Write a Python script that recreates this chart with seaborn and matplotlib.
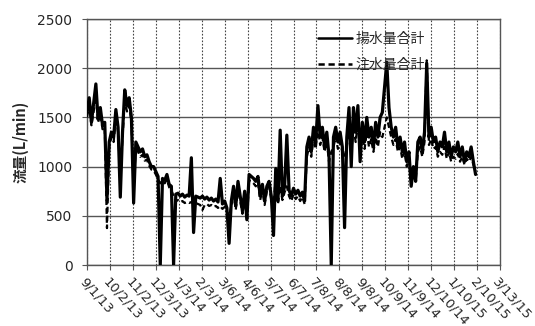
import matplotlib
matplotlib.use("Agg")
import matplotlib.pyplot as plt
import numpy as np
import pandas as pd
import seaborn as sns

# Flow readings, sampled every 3 days from 2013-09-01
start_date = "2013-09-01"
sample_step = "3D"

pumping = [
    1550, 1700, 1450, 1650, 1840, 1480, 1600, 1420, 1450, 660,
    1250, 1350, 1300, 1580, 1400, 690, 1350, 1780, 1620, 1700,
    1500, 630, 1250, 1200, 1150, 1180, 1100, 1120, 1050, 1000,
    1000, 950, 900, 0, 880, 860, 920, 820, 800, 0,
    720, 730, 700, 720, 690, 710, 700, 1090, 330, 700,
    690, 680, 700, 670, 690, 660, 680, 650, 670, 640,
    880, 620, 650, 580, 220, 650, 800, 600, 850, 700,
    550, 750, 460, 920, 900, 880, 850, 900, 700, 820,
    650, 800, 850, 700, 300, 980, 650, 1370, 700, 800,
    1320, 760, 700, 780, 720, 760, 700, 740, 650, 1200,
    1300, 1150, 1400, 1250, 1620, 1300, 1400, 1200, 1350, 1100,
    0, 1300, 1400, 1250, 1350, 1200, 380, 1300, 1600, 1000,
    1600, 1350, 1620, 1050, 1450, 1250, 1500, 1300, 1400, 1200,
    1450, 1300, 1500, 1550, 1800, 2060, 1600, 1400, 1300, 1400,
    1200, 1300, 1150, 1250, 1050, 1150, 800, 1000, 850, 1250,
    1300, 1150, 1350, 2050, 1300, 1400, 1250, 1300, 1150, 1250,
    1200, 1350, 1150, 1250, 1100, 1200, 1150, 1250, 1100, 1200,
    1050, 1150, 1100, 1200, 1050, 920,
]

injection = [
    1500, 1620, 1420, 1560, 1720, 1450, 1530, 1380, 1400, 375,
    1200, 1300, 1250, 1500, 1350, 900, 1300, 1680, 1560, 1620,
    1450, 800, 1200, 1150, 1100, 1120, 1060, 1070, 1010, 970,
    960, 920, 870, 830, 850, 830, 870, 790, 760, 700,
    650, 660, 640, 650, 630, 640, 630, 640, 620, 630,
    620, 610, 560, 610, 620, 600, 610, 590, 600, 580,
    600, 570, 590, 540, 500, 600, 720, 560, 780, 650,
    520, 690, 450, 860, 850, 830, 800, 840, 660, 770,
    610, 750, 800, 660, 600, 900, 620, 800, 660, 740,
    800, 700, 650, 720, 670, 700, 650, 690, 620, 1100,
    1200, 1100, 1300, 1180, 1400, 1220, 1300, 1150, 1250, 1050,
    1150, 1200, 1300, 1180, 1250, 1150, 1100, 1200, 1400, 1150,
    1400, 1250, 1450, 1200, 1300, 1180, 1350, 1200, 1280, 1150,
    1300, 1200, 1350, 1300, 1400, 1500, 1400, 1300, 1220, 1280,
    1150, 1200, 1080, 1150, 1000, 1080, 820, 950, 850, 1150,
    1200, 1100, 1250, 2080, 1220, 1280, 1180, 1200, 1100, 1150,
    1120, 1200, 1080, 1150, 1050, 1100, 1080, 1130, 1050, 1100,
    1020, 1080, 1050, 1100, 1020, 950,
]

tick_labels = [
    "9/1/13", "10/2/13", "11/2/13", "12/3/13", "1/3/14", "2/3/14",
    "3/6/14", "4/6/14", "5/7/14", "6/7/14", "7/8/14", "8/8/14",
    "9/8/14", "10/9/14", "11/9/14", "12/10/14", "1/10/15", "2/10/15",
    "3/13/15",
]
y_ticks = [0, 500, 1000, 1500, 2000, 2500]

label_pump = "揚水量合計"
label_inject = "注水量合計"
y_label = "流量(L/min)"

dates = pd.date_range(start_date, periods=len(pumping), freq=sample_step)
df = pd.DataFrame({"date": dates, "pump": pumping, "inject": injection})
tick_dates = pd.to_datetime(tick_labels, format="%m/%d/%y")

sns.set_style("white")
plt.rcParams["font.family"] = ["DejaVu Sans", "Noto Sans CJK JP"]

fig = plt.figure(figsize=(5.35, 3.26), dpi=100)
ax = fig.add_axes([0.1626, 0.1871, 0.772, 0.7546])

sns.lineplot(data=df, x="date", y="inject", ax=ax, color="black",
             lw=1.6, label=label_inject, zorder=3)
sns.lineplot(data=df, x="date", y="pump", ax=ax, color="black",
             lw=2.3, label=label_pump, zorder=4)
ax.lines[0].set_dashes([2.5, 1.5])

ax.set_xlim(tick_dates[0], tick_dates[-1])
ax.set_ylim(0, 2500)
ax.set_yticks(y_ticks)
ax.set_xticks(tick_dates)
ax.set_xticklabels(tick_labels, rotation=-48, ha="left", va="top",
                   rotation_mode="anchor", fontsize=9.5)
ax.tick_params(axis="x", pad=4)
ax.tick_params(axis="y", labelsize=10, pad=7)
ax.tick_params(axis="both", direction="out", length=3.5, width=0.8,
               color="#555555", bottom=True, left=True)

# Solid horizontal and dotted vertical gridlines
for y in y_ticks:
    ax.axhline(y, color="#555555", lw=1.0, zorder=1)
for d in tick_dates:
    ax.axvline(d, color="#444444", lw=0.8, ls=(0, (1.5, 1.5)), zorder=1)

for s in ax.spines.values():
    s.set_color("#555555")
    s.set_linewidth(1.0)

ax.set_xlabel("")
ax.set_ylabel(y_label, fontsize=10.5, fontweight="bold", labelpad=6,
              family=["Noto Sans CJK JP", "DejaVu Sans"])

handles, labels = ax.get_legend_handles_labels()
order = [labels.index(label_pump), labels.index(label_inject)]
leg = ax.legend([handles[i] for i in order], [labels[i] for i in order],
                loc="upper left", bbox_to_anchor=(0.53, 1.0), frameon=False,
                fontsize=10, labelspacing=0.9, handlelength=2.4,
                handletextpad=0.3)
for line in leg.get_lines():
    line.set_linewidth(1.8)

fig.savefig("out.png", dpi=100)
